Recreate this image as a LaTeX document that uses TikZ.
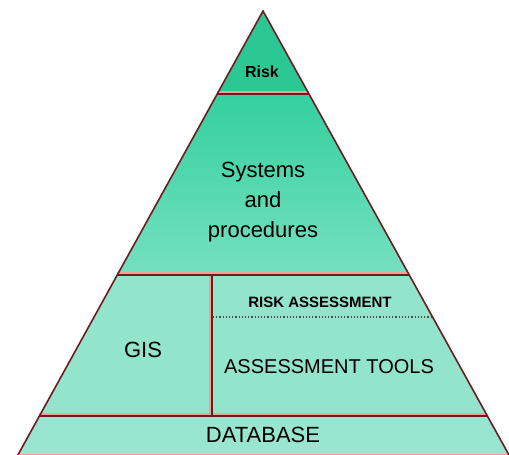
\documentclass[tikz,border=0pt]{standalone}
\usepackage{fontspec}
\setmainfont{Liberation Sans}
\begin{document}
\begin{tikzpicture}[x=1pt,y=-1pt,
  edge/.style={draw=maroon,line width=1.4pt},
  halo/.style={draw=salmon,line width=1.6pt},
  lbl/.style={inner sep=0pt,text=black,align=center},
]
\definecolor{maroon}{RGB}{110,28,36}
\definecolor{salmon}{RGB}{245,160,150}
\definecolor{topg}{RGB}{44,200,148}
\definecolor{sysA}{RGB}{52,208,158}
\definecolor{sysB}{RGB}{118,224,192}
\definecolor{lowg}{RGB}{146,228,202}
\definecolor{dbg}{RGB}{152,230,208}
\useasboundingbox (0,0) rectangle (509,455);
\fill[white] (0,0) rectangle (509,455);
% coordinates
\coordinate (A) at (263,11);
\coordinate (L1) at (217.2,94);  \coordinate (R1) at (309.0,94);
\coordinate (L2) at (117.3,275); \coordinate (R2) at (409.3,275);
\coordinate (L3) at (39.4,416);  \coordinate (R3) at (487.4,416);
\coordinate (L4) at (17.9,455);  \coordinate (R4) at (509,455);
\coordinate (V1) at (212,275);   \coordinate (V2) at (212,416);
\coordinate (D1) at (213,317);   \coordinate (D2) at (432,317);
% fills
\fill[topg] (A) -- (R1) -- (L1) -- cycle;
\shade[top color=sysA,bottom color=sysB] (L1) -- (R1) -- (R2) -- (L2) -- cycle;
\fill[lowg] (L2) -- (R2) -- (R3) -- (L3) -- cycle;
\fill[dbg] (L3) -- (R3) -- (R4) -- (L4) -- cycle;
% salmon halos
\draw[halo] ([yshift=2.2pt]L1) -- ([yshift=2.2pt]R1);
\draw[halo] ([yshift=2.2pt]L2) -- ([yshift=2.2pt]R2);
\draw[halo] ([yshift=2.2pt]L3) -- ([yshift=2.2pt]R3);
\draw[halo] ([xshift=-2pt]V1) -- ([xshift=-2pt]V2);
\draw[halo] (L4) -- (R4);
% dividers
\draw[edge] (L1) -- (R1);
\draw[edge] (L2) -- (R2);
\draw[edge] (L3) -- (R3);
\draw[edge] (V1) -- (V2);
\draw[black!70,line width=1.2pt,dash pattern=on 1.2pt off 2pt] (D1) -- (D2);
% outline
\draw[edge,line width=1.6pt] (L4) -- (A) -- (R4);
% labels
\node[lbl,font=\bfseries\fontsize{16}{16}\selectfont] (risk) at (262,72) {Risk};
\node[lbl,font=\fontsize{22}{30}\selectfont] (sys) at (263,202) {Systems\\and\\procedures};
\node[lbl,font=\fontsize{22}{22}\selectfont] (gis) at (143,350) {GIS};
\node[lbl,font=\bfseries\fontsize{15}{15}\selectfont] (ra) at (320,302) {RISK ASSESSMENT};
\node[lbl,font=\fontsize{20}{20}\selectfont] (at) at (329,367) {ASSESSMENT TOOLS};
\node[lbl,font=\fontsize{22}{22}\selectfont] (db) at (263,435) {DATABASE};
\end{tikzpicture}
\end{document}
